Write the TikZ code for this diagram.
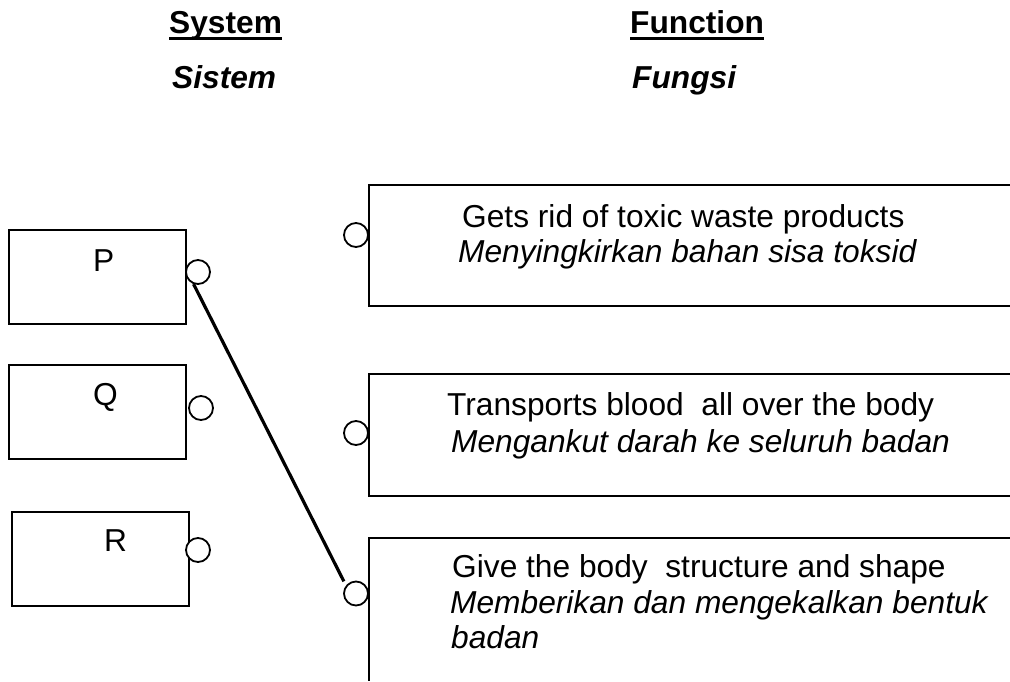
\documentclass[tikz,border=0pt]{standalone}
\usepackage{fontspec}
\setmainfont{Liberation Sans}
\begin{document}
\begin{tikzpicture}[x=1pt,y=-1pt,
  txt/.style={anchor=base west,inner sep=0pt,font=\fontsize{31.7}{37}\selectfont},
  head/.style={txt,font=\fontsize{31.7}{37}\selectfont\bfseries},
  headit/.style={txt,font=\fontsize{31.7}{37}\selectfont\bfseries\itshape},
  it/.style={txt,font=\fontsize{31.7}{37}\selectfont\itshape},
  sbox/.style={draw,line width=2pt,rectangle,inner sep=0pt,minimum width=177pt,minimum height=94pt},
  dot/.style={draw,line width=1.8pt,circle,fill=white,inner sep=0pt,minimum size=24pt},
  fbox/.style={line width=2pt},
  uline/.style={line width=3pt},
  link/.style={line width=3.2pt}]
\useasboundingbox (0,0) rectangle (1010,681);
% headings
\node[head] (hS) at (169,33) {System};
\node[headit] (hSi) at (172,88) {Sistem};
\node[head] (hF) at (630,33) {Function};
\node[headit] (hFi) at (632,88) {Fungsi};
\draw[uline] ([yshift=-5.5pt]hS.base west) -- ([yshift=-5.5pt]hS.base east);
\draw[uline] ([yshift=-5.5pt]hF.base west) -- ([yshift=-5.5pt]hF.base east);
% left boxes
\node[sbox] (P) at (97.5,277) {};
\node[sbox] (Q) at (97.5,412) {};
\node[sbox] (R) at (100,558.5) {};
\node[txt] (tP) at (93,271) {P};
\node[txt] (tQ) at (93,405) {Q};
\node[txt] (tR) at (104,551) {R};
\node[dot] (cP) at (198,272) {};
\node[dot] (cQ) at (201,408) {};
\node[dot] (cR) at (198,550) {};
% right boxes (open to the right)
\coordinate (b1a) at (1010,185);
\coordinate (b1b) at (369,185);
\coordinate (b1c) at (369,306);
\coordinate (b1d) at (1010,306);
\draw[fbox] (b1a) -- (b1b) -- (b1c) -- (b1d);
\coordinate (b2a) at (1010,374);
\coordinate (b2b) at (369,374);
\coordinate (b2c) at (369,496);
\coordinate (b2d) at (1010,496);
\draw[fbox] (b2a) -- (b2b) -- (b2c) -- (b2d);
\coordinate (b3a) at (1010,538);
\coordinate (b3b) at (369,538);
\coordinate (b3c) at (369,681);
\draw[fbox] (b3a) -- (b3b) -- (b3c);
\node[dot] (c1) at (356,235) {};
\node[dot] (c2) at (356,433) {};
\node[dot] (c3) at (356,593.5) {};
% texts
\node[txt] (t1a) at (462,227) {Gets rid of toxic waste products};
\node[it] (t1b) at (458,262) {Menyingkirkan bahan sisa toksid};
\node[txt] (t2a) at (447,415) {Transports blood\ \ all over the body};
\node[it] (t2b) at (451,452) {Mengankut darah ke seluruh badan};
\node[txt] (t3a) at (452,577) {Give the body\ \ structure and shape};
\node[it] (t3b) at (450,613) {Memberikan dan mengekalkan bentuk};
\node[it] (t3c) at (451,648) {badan};
% connector
\draw[link] (cP.250) -- ([shift={(-3pt,3pt)}]c3.135);
\end{tikzpicture}
\end{document}
